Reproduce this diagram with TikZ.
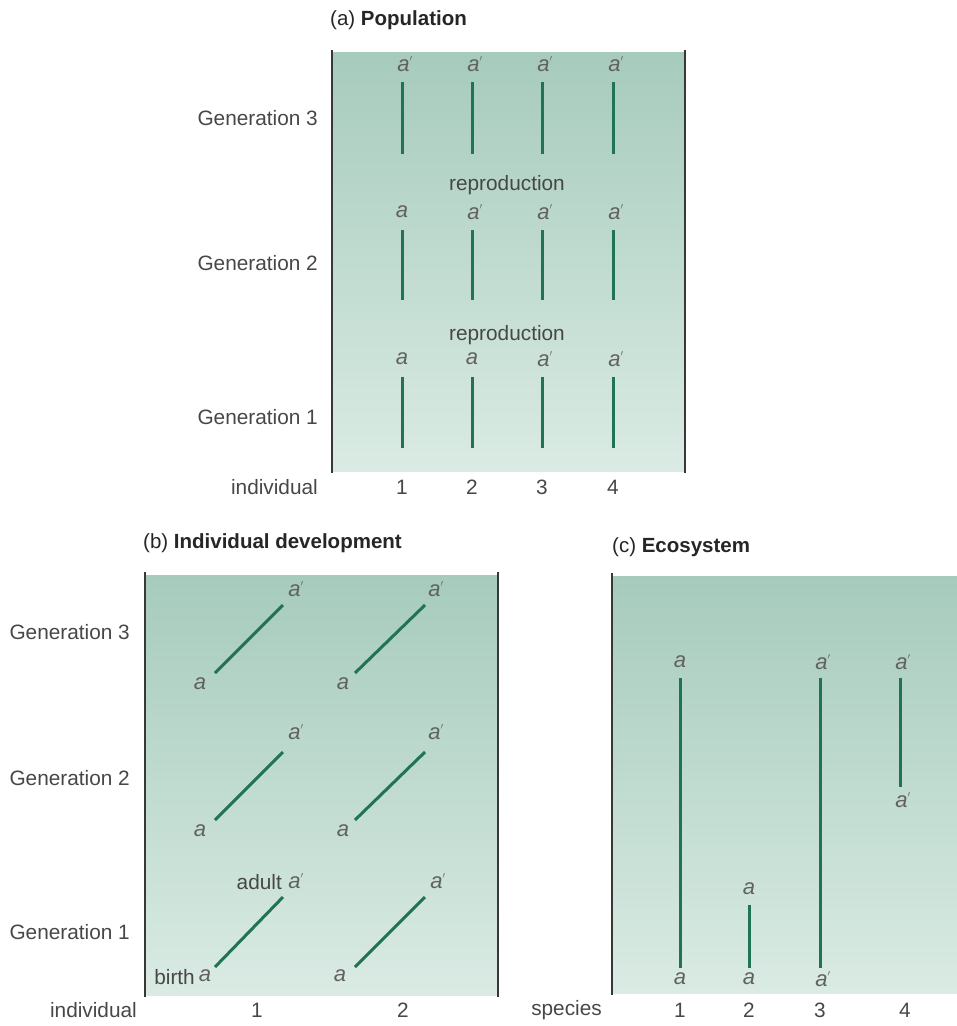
\documentclass[tikz,border=0pt]{standalone}
\usepackage{fontspec}
\setmainfont{Liberation Sans}
\begin{document}
\begin{tikzpicture}[x=1pt,y=-1pt,
  lbl/.style={font=\fontsize{20.8}{22}\selectfont, text=black!72, inner sep=0pt},
  ttl/.style={font=\fontsize{20.5}{22}\selectfont, text=black!85, inner sep=0pt, anchor=west},
  allele/.style={font=\fontsize{22}{24}\selectfont\itshape, text=black!62, inner sep=0pt},
  lineage/.style={draw=lineagegreen, line width=3pt},
  frame/.style={draw=black!78, line width=2.4pt},
  panelbg/.style={top color=bgtop, bottom color=bgbottom, draw=none}]
\definecolor{lineagegreen}{RGB}{32,116,84}
\definecolor{bgtop}{RGB}{166,203,188}
\definecolor{bgbottom}{RGB}{218,235,228}
\newcommand{\ap}{a\raisebox{0.45ex}{\fontsize{13}{13}\selectfont$'$}}
\useasboundingbox (0,0) rectangle (957,1026);

% ---------- (a) Population ----------
\node[ttl] (ta) at (330,20) {(a) \textbf{Population}};
\fill[panelbg] (333,52) rectangle (684,471);
\coordinate (aL1) at (332,50); \coordinate (aL2) at (332,473);
\coordinate (aR1) at (685,50); \coordinate (aR2) at (685,473);
\draw[frame] (aL1) -- (aL2);
\draw[frame] (aR1) -- (aR2);

\node[lbl, anchor=east] (ag3) at (318,118) {Generation 3};
\node[lbl, anchor=east] (ag2) at (318,263) {Generation 2};
\node[lbl, anchor=east] (ag1) at (318,417) {Generation 1};
\node[lbl, anchor=east] (aind) at (318,487) {individual};
\node[lbl] (arep2) at (507,185) {reproduction};
\node[lbl] (arep1) at (507,335) {reproduction};

\foreach \i/\x in {1/402,2/472,3/542,4/613} {
  \node[lbl] (anum\i) at (\x,487) {\i};
  \coordinate (g3t\i) at (\x,82);  \coordinate (g3b\i) at (\x,154);
  \coordinate (g2t\i) at (\x,230); \coordinate (g2b\i) at (\x,300);
  \coordinate (g1t\i) at (\x,377); \coordinate (g1b\i) at (\x,448);
  \draw[lineage] (g3t\i) -- (g3b\i);
  \draw[lineage] (g2t\i) -- (g2b\i);
  \draw[lineage] (g1t\i) -- (g1b\i);
}
% allele labels, generation 3
\foreach \i/\x in {1/402,2/472,3/542,4/613}
  \node[allele] (a3\i) at (\x+3,64) {\ap};
% generation 2
\node[allele] (a21) at (402,212) {a};
\foreach \i/\x in {2/472,3/542,4/613}
  \node[allele] (a2\i) at (\x+3,212) {\ap};
% generation 1
\node[allele] (a11) at (402,359) {a};
\node[allele] (a12) at (472,359) {a};
\foreach \i/\x in {3/542,4/613}
  \node[allele] (a1\i) at (\x+3,359) {\ap};

% ---------- (b) Individual development ----------
\node[ttl] (tb) at (143,543) {(b) \textbf{Individual development}};
\fill[panelbg] (146,575) rectangle (497,995);
\coordinate (bL1) at (145,572); \coordinate (bL2) at (145,997);
\coordinate (bR1) at (498,572); \coordinate (bR2) at (498,997);
\draw[frame] (bL1) -- (bL2);
\draw[frame] (bR1) -- (bR2);

\node[lbl, anchor=east] (bg3) at (130,632) {Generation 3};
\node[lbl, anchor=east] (bg2) at (130,778) {Generation 2};
\node[lbl, anchor=east] (bg1) at (130,932) {Generation 1};
\node[lbl, anchor=east] (bind) at (137,1010) {individual};
\node[lbl] (bnum1) at (257,1010) {1};
\node[lbl] (bnum2) at (403,1010) {2};

% generation 3
\node[allele] (b3a1) at (200,684) {a};
\node[allele] (b3p1) at (296,589) {\ap};
\node[allele] (b3a2) at (343,684) {a};
\node[allele] (b3p2) at (436,589) {\ap};
\coordinate (b3s1) at (215,673); \coordinate (b3e1) at (283,605);
\coordinate (b3s2) at (355,673); \coordinate (b3e2) at (425,605);
\draw[lineage] (b3s1) -- (b3e1);
\draw[lineage] (b3s2) -- (b3e2);
% generation 2
\node[allele] (b2a1) at (200,831) {a};
\node[allele] (b2p1) at (296,732) {\ap};
\node[allele] (b2a2) at (343,831) {a};
\node[allele] (b2p2) at (436,732) {\ap};
\coordinate (b2s1) at (215,820); \coordinate (b2e1) at (283,752);
\coordinate (b2s2) at (355,820); \coordinate (b2e2) at (425,752);
\draw[lineage] (b2s1) -- (b2e1);
\draw[lineage] (b2s2) -- (b2e2);
% generation 1
\node[allele] (b1a1) at (205,976) {a};
\node[lbl, anchor=east] (birth) at (195,977) {birth};
\node[allele] (b1p1) at (296,881) {\ap};
\node[lbl, anchor=east] (adult) at (282,882) {adult};
\node[allele] (b1a2) at (340,976) {a};
\node[allele] (b1p2) at (438,881) {\ap};
\coordinate (b1s1) at (215,967); \coordinate (b1e1) at (283,897);
\coordinate (b1s2) at (355,967); \coordinate (b1e2) at (425,897);
\draw[lineage] (b1s1) -- (b1e1);
\draw[lineage] (b1s2) -- (b1e2);

% ---------- (c) Ecosystem ----------
\node[ttl] (tc) at (612,547) {(c) \textbf{Ecosystem}};
\fill[panelbg] (613,576) rectangle (957,993);
\coordinate (cL1) at (612,573); \coordinate (cL2) at (612,995);
\draw[frame] (cL1) -- (cL2);

\node[lbl, anchor=east] (cspec) at (602,1010) {species};
\node[lbl] (cnum1) at (680,1010) {1};
\node[lbl] (cnum2) at (749,1010) {2};
\node[lbl] (cnum3) at (820,1010) {3};
\node[lbl] (cnum4) at (905,1010) {4};

% species 1
\node[allele] (c1t) at (680,662) {a};
\node[allele] (c1b) at (680,979) {a};
\coordinate (c1s) at (680,678); \coordinate (c1e) at (680,968);
\draw[lineage] (c1s) -- (c1e);
% species 2
\node[allele] (c2t) at (749,889) {a};
\node[allele] (c2b) at (749,979) {a};
\coordinate (c2s) at (749,905); \coordinate (c2e) at (749,968);
\draw[lineage] (c2s) -- (c2e);
% species 3
\node[allele] (c3t) at (823,662) {\ap};
\node[allele] (c3b) at (823,979) {\ap};
\coordinate (c3s) at (820,678); \coordinate (c3e) at (820,968);
\draw[lineage] (c3s) -- (c3e);
% species 4
\node[allele] (c4t) at (903,662) {\ap};
\node[allele] (c4b) at (903,800) {\ap};
\coordinate (c4s) at (900,678); \coordinate (c4e) at (900,787);
\draw[lineage] (c4s) -- (c4e);
\end{tikzpicture}
\end{document}
